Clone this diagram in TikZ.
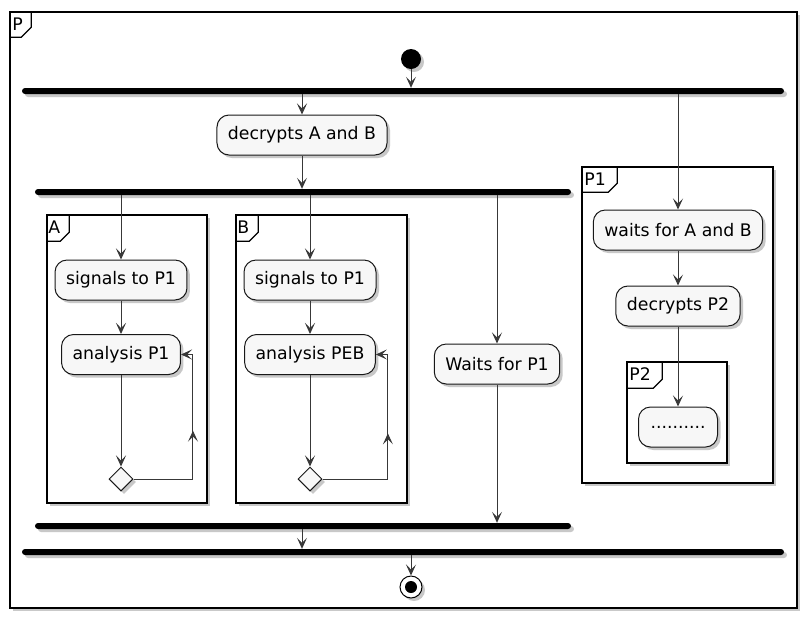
\documentclass[tikz,border=0pt]{standalone}
\usepackage{fontspec}
\setmainfont{DejaVu Sans}
\usepackage{tikz}
\usetikzlibrary{shapes.geometric,shadows,arrows.meta,decorations.markings}
\definecolor{actfill}{HTML}{F7F7F7}
\definecolor{actline}{HTML}{181818}
\definecolor{flowline}{HTML}{383838}

\begin{document}
\begin{tikzpicture}
[every node/.style={inner sep=0pt},
 font=\fontsize{17.3}{20}\selectfont,
 shadowed/.style={drop shadow={shadow xshift=3pt, shadow yshift=-3pt, opacity=0.3, fill=black!70}},
 action/.style={rectangle, rounded corners=12pt, minimum height=40pt, inner xsep=11pt, fill=actfill, draw=actline, line width=1pt, shadowed},
 forkbar/.style={rectangle, rounded corners=3pt, minimum height=6pt, fill=black, shadowed},
 frame/.style={rectangle, draw=black, line width=1.5pt, fill=white, shadowed},
 tabline/.style={draw=black, line width=1.25pt},
 flow/.style={line width=1pt, color=flowline, -{Stealth[length=11pt, width=10pt, inset=5pt]}},
 backflow/.style={flow, postaction={decorate}, decoration={markings, mark=at position 0.55 with {\arrow{Stealth[length=11pt, width=10pt, inset=5pt]}}}}]
\useasboundingbox (0pt, 0pt) rectangle (805pt, -619pt);
% frames
\node (frP) [frame, minimum width=787pt, minimum height=596pt] at (403.5pt, -310pt) {};
\node (frA) [frame, minimum width=160pt, minimum height=288pt] at (127pt, -359pt) {};
\node (frB) [frame, minimum width=171pt, minimum height=288pt] at (321.5pt, -359pt) {};
\node (frPone) [frame, minimum width=191pt, minimum height=316pt] at (677.5pt, -325pt) {};
\node (frPtwo) [frame, minimum width=100pt, minimum height=101pt] at (677pt, -412.5pt) {};
\draw [tabline] ([yshift=-26pt]frP.north west) -- ++(12pt, 0) -- ++(10pt, 10pt) -- ++(0, 16pt);
\draw [tabline] ([yshift=-27pt]frA.north west) -- ++(14pt, 0) -- ++(9pt, 9pt) -- ++(0, 18pt);
\draw [tabline] ([yshift=-27pt]frB.north west) -- ++(14pt, 0) -- ++(9pt, 9pt) -- ++(0, 18pt);
\draw [tabline] ([yshift=-26pt]frPone.north west) -- ++(27pt, 0) -- ++(9pt, 9pt) -- ++(0, 17pt);
\draw [tabline] ([yshift=-27pt]frPtwo.north west) -- ++(27pt, 0) -- ++(9pt, 9pt) -- ++(0, 18pt);
\node (lblP) [anchor=west] at ([xshift=3pt, yshift=-13pt]frP.north west) {P};
\node (lblA) [anchor=west] at ([xshift=2pt, yshift=-13pt]frA.north west) {A};
\node (lblB) [anchor=west] at ([xshift=2pt, yshift=-13pt]frB.north west) {B};
\node (lblPone) [anchor=west] at ([xshift=3pt, yshift=-13pt]frPone.north west) {P1};
\node (lblPtwo) [anchor=west] at ([xshift=3pt, yshift=-13pt]frPtwo.north west) {P2};
% start, bars, end
\node (start) [circle, minimum size=20pt, fill=black, shadowed] at (411pt, -59pt) {};
\node (barone) [forkbar, minimum width=762pt] at (403pt, -91pt) {};
\node (bartwo) [forkbar, minimum width=536pt] at (303pt, -192pt) {};
\node (barthree) [forkbar, minimum width=536pt] at (303pt, -526pt) {};
\node (barfour) [forkbar, minimum width=762pt] at (403pt, -552pt) {};
\node (stop) [circle, minimum size=22pt, draw=black, line width=1pt, fill=white, shadowed,
  path picture={\fill [black] (path picture bounding box.center) circle (6pt);}] at (411pt, -587pt) {};
% actions
\node (decAB) [action] at (302pt, -135pt) {decrypts A and B};
\node (sigA) [action] at (121pt, -280pt) {signals to P1};
\node (anaA) [action] at (121pt, -354.5pt) {analysis P1};
\node (decA) [diamond, minimum width=24pt, minimum height=24pt, fill=actfill, draw=actline, line width=1pt, shadowed] at (121pt, -479pt) {};
\node (sigB) [action] at (310pt, -280pt) {signals to P1};
\node (anaB) [action] at (310pt, -354.5pt) {analysis PEB};
\node (decB) [diamond, minimum width=24pt, minimum height=24pt, fill=actfill, draw=actline, line width=1pt, shadowed] at (310pt, -479pt) {};
\node (waitP) [action] at (497pt, -364pt) {Waits for P1};
\node (waitAB) [action] at (678pt, -230pt) {waits for A and B};
\node (decPtwo) [action] at (678pt, -306pt) {decrypts P2};
\node (dots) [action, minimum width=79pt] at (678pt, -427pt) {..........};
% connectors
\draw [flow] (start) -- (start |- barone.north);
\draw [flow] (barone.south -| decAB) -- (decAB);
\draw [flow] (barone.south -| waitAB) -- (waitAB);
\draw [flow] (decAB) -- (decAB |- bartwo.north);
\draw [flow] (bartwo.south -| sigA) -- (sigA);
\draw [flow] (bartwo.south -| sigB) -- (sigB);
\draw [flow] (bartwo.south -| waitP) -- (waitP);
\draw [flow] (sigA) -- (anaA);
\draw [flow] (anaA) -- (decA);
\draw [backflow] (decA.east) -| ([xshift=12pt]anaA.east) -- (anaA.east);
\draw [flow] (sigB) -- (anaB);
\draw [flow] (anaB) -- (decB);
\draw [backflow] (decB.east) -| ([xshift=12pt]anaB.east) -- (anaB.east);
\draw [flow] (waitP) -- (waitP |- barthree.north);
\draw [flow] (waitAB) -- (decPtwo);
\draw [flow] (decPtwo) -- (dots);
\draw [flow] (barthree.south -| decAB) -- (decAB |- barfour.north);
\draw [flow] (barfour.south -| stop) -- (stop);
\end{tikzpicture}
\end{document}
